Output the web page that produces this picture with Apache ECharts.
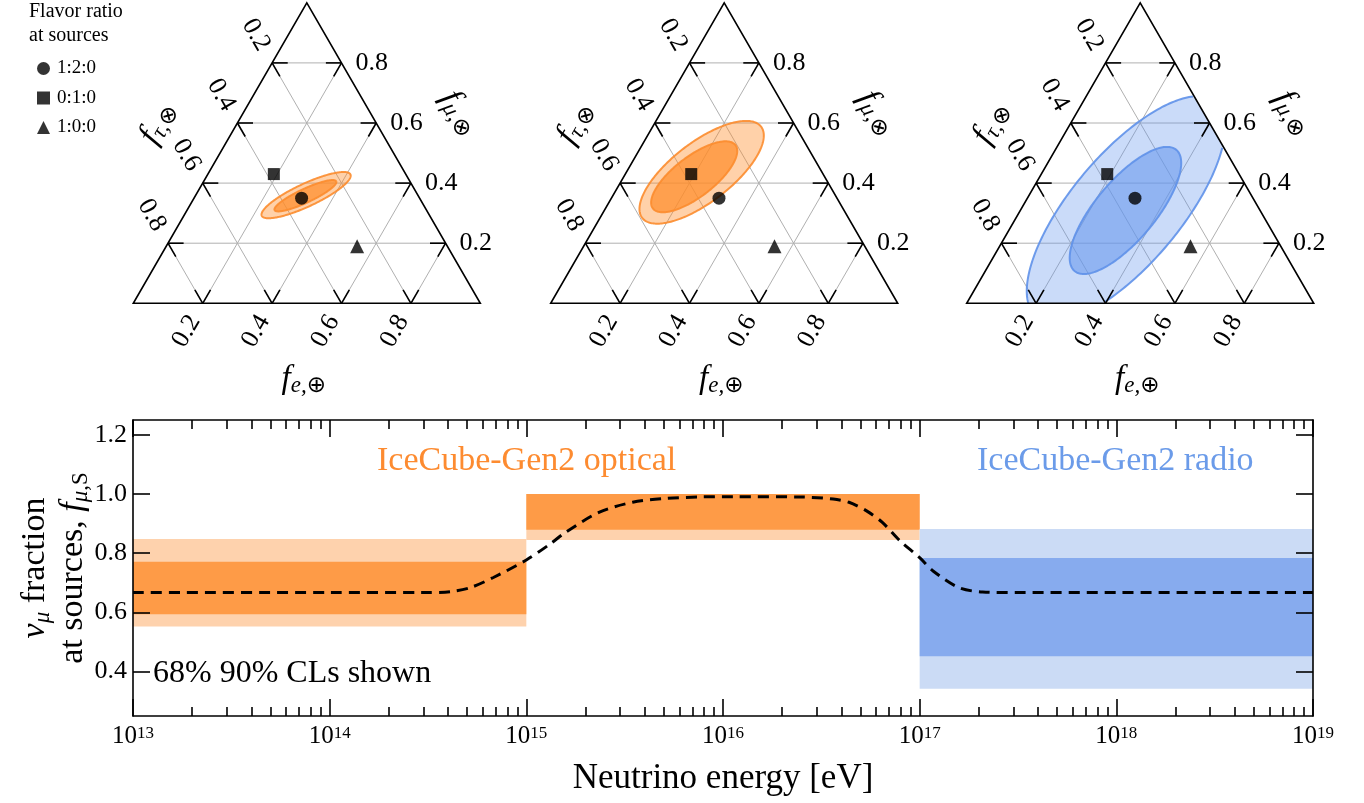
<!DOCTYPE html>
<html><head><meta charset="utf-8">
<script src="https://cdn.jsdelivr.net/npm/echarts@6/dist/echarts.min.js"></script>
<style>html,body{margin:0;padding:0;background:#fff}#c{width:1364px;height:803px}</style>
</head><body><div id="c"></div><script>
const SERIF = "'Liberation Serif','DejaVu Serif',serif";

// ---------- Ternary panels (flavor composition at Earth) ----------
const ternaryTicks = [0.2, 0.4, 0.6, 0.8];
const sourceNames = ['1:2:0', '0:1:0', '1:0:0'];
const sourceSymbols = ['circle', 'rect', 'triangle'];
const sourceFe = [0.31, 0.19, 0.55];     // f_e at Earth
const sourceFmu = [0.35, 0.43, 0.19];    // f_mu at Earth
// confidence regions per panel: [f_e centre, f_mu centre, semi-major, semi-minor, tilt deg]
const panelEll90 = [[0.318, 0.360, 0.141, 0.033, 25], [0.217, 0.436, 0.216, 0.086, 37.5], [0.302, 0.314, 0.403, 0.158, 50]];
const panelEll68 = [[0.317, 0.358, 0.098, 0.020, 25], [0.203, 0.421, 0.150, 0.058, 37.5], [0.303, 0.309, 0.228, 0.086, 50]];
const panelTheme = ['optical', 'optical', 'radio'];

// ---------- Bottom panel ----------
const bandStart = [1e13, 1e15, 1e17];
const bandEnd = [1e15, 1e17, 1e19];
const band90Low = [0.552, 0.845, 0.342];
const band90High = [0.848, 1.0, 0.882];
const band68Low = [0.594, 0.879, 0.452];
const band68High = [0.771, 1.0, 0.784];
const bandTheme = ['optical', 'optical', 'radio'];
const curveEnergy = [1e13, 1e14, 3e14, 4.1e14, 5.2e14, 6.8e14, 1e15, 1.32e15, 1.58e15, 2.34e15, 3.47e15, 5.13e15, 7.6e15, 1.12e16, 2.45e16, 3.63e16, 4.37e16, 5.37e16, 6.46e16, 7.94e16, 1e17, 1.17e17, 1.58e17, 2.09e17, 3.1e17, 1e18, 1e19];
const curveFmu = [0.667, 0.667, 0.667, 0.670, 0.684, 0.718, 0.777, 0.831, 0.870, 0.938, 0.972, 0.985, 0.990, 0.991, 0.990, 0.983, 0.972, 0.943, 0.904, 0.842, 0.785, 0.740, 0.684, 0.669, 0.667, 0.667, 0.667];
const yTickValues = [0.4, 0.6, 0.8, 1.0, 1.2];
const decadeExps = [13, 14, 15, 16, 17, 18];
const minorMultipliers = [2, 3, 4, 5, 6, 7, 8, 9];

// ---------- styles ----------
const themeStyle = {
  optical: { stroke: 'rgba(252,140,45,0.9)', fill90: 'rgba(255,140,40,0.40)', fill68: 'rgba(255,140,40,0.70)',
             light: '#fed2ad', dark: '#fe9b47', text: '#fd8b30' },
  radio: { stroke: 'rgba(95,145,233,0.9)', fill90: 'rgba(100,149,237,0.34)', fill68: 'rgba(100,149,237,0.56)',
           light: '#cbdbf5', dark: '#87abee', text: '#6b9be9' }
};

const SQ3 = Math.sqrt(3);
const tern = (fe, fmu) => [fe + fmu / 2, fmu * SQ3 / 2];
const insideTri = p => p[1] >= -1e-9 && SQ3 * p[0] - p[1] >= -1e-9 && SQ3 * (1 - p[0]) - p[1] >= -1e-9;

function ellipsePoints(e) {
  const [fe, fmu, a, b, ang] = e;
  const c = tern(fe, fmu), th = ang * Math.PI / 180, pts = [];
  const N = 240;
  for (let k = 0; k < N; k++) {
    const s = 2 * Math.PI * k / N;
    pts.push([c[0] + a * Math.cos(s) * Math.cos(th) - b * Math.sin(s) * Math.sin(th),
              c[1] + a * Math.cos(s) * Math.sin(th) + b * Math.sin(s) * Math.cos(th)]);
  }
  return pts;
}
function clipToTriangle(pts) {
  const planes = [p => p[1], p => SQ3 * p[0] - p[1], p => SQ3 * (1 - p[0]) - p[1]];
  let out = pts;
  planes.forEach(f => {
    const inp = out; out = [];
    for (let i = 0; i < inp.length; i++) {
      const a = inp[i], b = inp[(i + 1) % inp.length];
      const fa = f(a), fb = f(b);
      if (fa >= 0) out.push(a);
      if ((fa >= 0) !== (fb >= 0)) {
        const t = fa / (fa - fb);
        out.push([a[0] + t * (b[0] - a[0]), a[1] + t * (b[1] - a[1])]);
      }
    }
  });
  return out;
}
function strokeRuns(pts) {
  const n = pts.length;
  const start = pts.findIndex(p => !insideTri(p));
  if (start < 0) return [pts.concat([pts[0]])];
  const runs = []; let cur = [];
  for (let i = 1; i <= n; i++) {
    const p = pts[(start + i) % n];
    if (insideTri(p)) cur.push(p); else { if (cur.length > 1) runs.push(cur); cur = []; }
  }
  if (cur.length > 1) runs.push(cur);
  return runs;
}

const titleRich = {
  f: { fontSize: 33, fontStyle: 'italic', fontFamily: SERIF, lineHeight: 36, verticalAlign: 'middle', color: '#000' },
  s: { fontSize: 23, fontStyle: 'italic', fontFamily: SERIF, lineHeight: 20, verticalAlign: 'bottom', color: '#000' },
  o: { fontSize: 23, fontFamily: "'DejaVu Sans',sans-serif", lineHeight: 21, verticalAlign: 'bottom', color: '#000' }
};
const TICKLEN = 0.045;

function ternaryRender(k) {
  const theme = themeStyle[panelTheme[k]];
  return function (params, api) {
    const P = (fe, fmu) => api.coord(tern(fe, fmu));
    const ch = [];
    const segs = [];
    ternaryTicks.forEach(t => {
      segs.push([[0, t], [1 - t, t]]);       // constant f_mu
      segs.push([[t, 0], [t, 1 - t]]);       // constant f_e
      segs.push([[1 - t, 0], [0, 1 - t]]);   // constant f_tau
    });
    segs.forEach(([a, b]) => {
      const pa = P(a[0], a[1]), pb = P(b[0], b[1]);
      ch.push({ type: 'line', shape: { x1: pa[0], y1: pa[1], x2: pb[0], y2: pb[1] }, style: { stroke: '#b0b0b0', lineWidth: 1 } });
    });
    [[panelEll90[k], theme.fill90], [panelEll68[k], theme.fill68]].forEach(([e, fill]) => {
      const pts = ellipsePoints(e);
      ch.push({ type: 'polygon', shape: { points: clipToTriangle(pts).map(p => api.coord(p)) }, style: { fill: fill, stroke: 'none' } });
      strokeRuns(pts).forEach(run => ch.push({ type: 'polyline', shape: { points: run.map(p => api.coord(p)) }, style: { stroke: theme.stroke, lineWidth: 2, fill: 'none' } }));
    });
    segs.forEach(([a, b]) => {
      const ca = tern(a[0], a[1]), cb = tern(b[0], b[1]);
      const L = Math.hypot(cb[0] - ca[0], cb[1] - ca[1]), f = TICKLEN / L;
      const ta = [ca[0] + (cb[0] - ca[0]) * f, ca[1] + (cb[1] - ca[1]) * f];
      const tb = [cb[0] + (ca[0] - cb[0]) * f, cb[1] + (ca[1] - cb[1]) * f];
      [[ca, ta], [cb, tb]].forEach(([u, v]) => {
        const pu = api.coord(u), pv = api.coord(v);
        ch.push({ type: 'line', shape: { x1: pu[0], y1: pu[1], x2: pv[0], y2: pv[1] }, style: { stroke: '#000', lineWidth: 1.6 } });
      });
    });
    ch.push({ type: 'polygon', shape: { points: [P(0, 0), P(1, 0), P(0, 1)] }, style: { fill: 'none', stroke: '#000', lineWidth: 1.6 } });
    const lblStyle = txt => ({ text: txt, fontSize: 26, fontFamily: SERIF, fill: '#000', verticalAlign: 'middle' });
    ternaryTicks.forEach(t => {
      const lbl = t.toFixed(1);
      const pb = P(t, 0);
      ch.push({ type: 'text', x: pb[0] - 8, y: pb[1] + 13.9, rotation: Math.PI / 3, style: Object.assign(lblStyle(lbl), { align: 'right' }) });
      const pl = P(0, 1 - t);
      ch.push({ type: 'text', x: pl[0] - 8, y: pl[1] - 13.9, rotation: -Math.PI / 3, style: Object.assign(lblStyle(lbl), { align: 'right' }) });
      const pr = P(1 - t, t);
      ch.push({ type: 'text', x: pr[0] + 14, y: pr[1], style: Object.assign(lblStyle(lbl), { align: 'left' }) });
    });
    const mb = P(0.5, 0), ml = P(0, 0.5), mr = P(0.5, 0.5);
    ch.push({ type: 'text', x: mb[0] - 3, y: mb[1] + 76, style: { text: '{f|f}{s|e,}{o|⊕}', rich: titleRich, align: 'center', verticalAlign: 'middle' } });
    ch.push({ type: 'text', x: ml[0] - 62, y: ml[1] - 30, rotation: Math.PI / 3, style: { text: '{f|f}{s|τ,}{o|⊗}', rich: titleRich, align: 'center', verticalAlign: 'middle' } });
    ch.push({ type: 'text', x: mr[0] + 66, y: mr[1] - 40, rotation: -Math.PI / 3, style: { text: '{f|f}{s|μ,}{o|⊗}', rich: titleRich, align: 'center', verticalAlign: 'middle' } });
    return { type: 'group', children: ch };
  };
}

const triLeft = [133.3, 550.7, 966.7];
const grids = [{ left: 133, top: 420, width: 1180, height: 296 }];
triLeft.forEach(l => grids.push({ left: l, top: 2.8, width: 347, height: 300.5 }));

const axisLineStyle = { color: '#000', width: 1.6 };
const minorExp = [];
decadeExps.forEach(d => minorMultipliers.forEach(m => minorExp.push(d + Math.log10(m))));

const xAxes = [
  { type: 'log', gridIndex: 0, position: 'bottom', min: 1e13, max: 1e19, logBase: 10, splitNumber: 6, z: 5,
    axisLine: { show: true, lineStyle: axisLineStyle }, splitLine: { show: false },
    axisTick: { show: true, inside: true, length: 17, lineStyle: axisLineStyle },
    axisLabel: { margin: 9, color: '#000', formatter: v => '{b|10}{s|' + Math.round(Math.log10(v)) + '}',
      rich: { b: { fontSize: 25, fontFamily: SERIF, lineHeight: 24, verticalAlign: 'bottom', color: '#000' },
              s: { fontSize: 17, fontFamily: SERIF, lineHeight: 16, verticalAlign: 'top', color: '#000' } } } },
  { type: 'log', gridIndex: 0, position: 'top', min: 1e13, max: 1e19, logBase: 10, splitNumber: 6, z: 5,
    axisLine: { show: true, lineStyle: axisLineStyle }, splitLine: { show: false },
    axisTick: { show: true, inside: true, length: 17, lineStyle: axisLineStyle }, axisLabel: { show: false } },
  { type: 'value', gridIndex: 0, position: 'bottom', min: 13, max: 19, z: 5, axisLine: { show: false }, splitLine: { show: false },
    axisTick: { show: true, inside: true, length: 9, customValues: minorExp, lineStyle: axisLineStyle }, axisLabel: { show: false } },
  { type: 'value', gridIndex: 0, position: 'top', min: 13, max: 19, z: 5, axisLine: { show: false }, splitLine: { show: false },
    axisTick: { show: true, inside: true, length: 9, customValues: minorExp, lineStyle: axisLineStyle }, axisLabel: { show: false } }
];
const yAxes = [
  { type: 'value', gridIndex: 0, position: 'left', min: 0.25, max: 1.25, z: 5,
    axisLine: { show: true, lineStyle: axisLineStyle }, splitLine: { show: false },
    axisTick: { show: true, inside: true, length: 17, customValues: yTickValues, lineStyle: axisLineStyle },
    axisLabel: { customValues: yTickValues, formatter: v => v.toFixed(1), fontSize: 26, fontFamily: SERIF, color: '#000', margin: 6 } },
  { type: 'value', gridIndex: 0, position: 'right', min: 0.25, max: 1.25, z: 5,
    axisLine: { show: true, lineStyle: axisLineStyle }, splitLine: { show: false },
    axisTick: { show: true, inside: true, length: 17, customValues: yTickValues, lineStyle: axisLineStyle }, axisLabel: { show: false } }
];
for (let k = 0; k < 3; k++) {
  xAxes.push({ type: 'value', gridIndex: k + 1, min: 0, max: 1, show: false });
  yAxes.push({ type: 'value', gridIndex: k + 1, min: 0, max: SQ3 / 2, show: false });
}

const bandData = bandStart.map((s, i) => [s, bandEnd[i], band90Low[i], band90High[i], band68Low[i], band68High[i]]);
const series = [
  { type: 'custom', name: 'bands', xAxisIndex: 0, yAxisIndex: 0, data: bandData, encode: { x: [0, 1], y: [2, 3, 4, 5] }, z: 2,
    renderItem: (params, api) => {
      const th = themeStyle[bandTheme[params.dataIndex]];
      const s = api.value(0), e = api.value(1);
      const r = (lo, hi) => { const p0 = api.coord([s, hi]), p1 = api.coord([e, lo]); return { x: p0[0], y: p0[1], width: p1[0] - p0[0], height: p1[1] - p0[1] }; };
      return { type: 'group', children: [
        { type: 'rect', shape: r(api.value(2), api.value(3)), style: { fill: th.light } },
        { type: 'rect', shape: r(api.value(4), api.value(5)), style: { fill: th.dark } }
      ] };
    } },
  { type: 'line', name: 'expected', xAxisIndex: 0, yAxisIndex: 0, data: curveEnergy.map((e, i) => [e, curveFmu[i]]),
    showSymbol: false, smooth: 0.3, z: 3, lineStyle: { color: '#000', width: 3, type: [11, 7] } }
];
for (let k = 0; k < 3; k++) {
  series.push({ type: 'custom', name: 'ternary' + k, xAxisIndex: 4 + k, yAxisIndex: 2 + k, data: [[0.5, 0.4]], clip: false, z: 2, silent: true,
    renderItem: ternaryRender(k) });
  sourceNames.forEach((nm, j) => series.push({ type: 'scatter', name: nm, xAxisIndex: 4 + k, yAxisIndex: 2 + k, z: 6,
    symbol: sourceSymbols[j], symbolSize: [13, 12, 14][j], itemStyle: { color: '#000' },
    data: [tern(sourceFe[j], sourceFmu[j])] }));
}

const subRich = {
  t: { fontSize: 34, fontFamily: SERIF, lineHeight: 38, verticalAlign: 'middle', color: '#000' },
  g: { fontSize: 34, fontFamily: SERIF, fontStyle: 'italic', lineHeight: 38, verticalAlign: 'middle', color: '#000' },
  u: { fontSize: 23, fontFamily: SERIF, fontStyle: 'italic', lineHeight: 22, verticalAlign: 'bottom', color: '#000' },
  r: { fontSize: 23, fontFamily: SERIF, lineHeight: 22, verticalAlign: 'bottom', color: '#000' }
};

const option = {
  animation: false,
  backgroundColor: '#fff',
  grid: grids,
  xAxis: xAxes,
  yAxis: yAxes,
  legend: { data: sourceNames, orient: 'vertical', left: 32, top: 54, itemWidth: 13, itemHeight: 13, itemGap: 10.5,
    selectedMode: false,
    textStyle: { fontSize: 19, fontFamily: SERIF, color: '#000', lineHeight: 18, padding: [0, 0, 0, 2] } },
  graphic: [
    { type: 'text', x: 29, y: 0, style: { text: 'Flavor ratio\nat sources', fontSize: 20, lineHeight: 23.5, fontFamily: SERIF, fill: '#000', align: 'left', verticalAlign: 'top' } },
    { type: 'text', x: 377, y: 461, z: 10, style: { text: 'IceCube-Gen2 optical', fontSize: 34, fontFamily: SERIF, fill: themeStyle.optical.text, align: 'left', verticalAlign: 'middle' } },
    { type: 'text', x: 977, y: 461, z: 10, style: { text: 'IceCube-Gen2 radio', fontSize: 34, fontFamily: SERIF, fill: themeStyle.radio.text, align: 'left', verticalAlign: 'middle' } },
    { type: 'text', x: 153, y: 674, z: 10, style: { text: '68% 90% CLs shown', fontSize: 32, fontFamily: SERIF, fill: '#000', align: 'left', verticalAlign: 'middle' } },
    { type: 'text', x: 723, y: 779, z: 10, style: { text: 'Neutrino energy [eV]', fontSize: 35, fontFamily: SERIF, fill: '#000', align: 'center', verticalAlign: 'middle' } },
    { type: 'text', x: 54, y: 568, rotation: Math.PI / 2, z: 10, style: { text: '{g|ν}{u|μ}{t| fraction}\n{t|at sources, }{g|f}{u|μ}{r|,S}', rich: subRich, align: 'center', verticalAlign: 'middle' } }
  ],
  series: series
};

const chart = echarts.init(document.getElementById('c'), null, { renderer: 'canvas' });
chart.setOption(option);
</script></body></html>
